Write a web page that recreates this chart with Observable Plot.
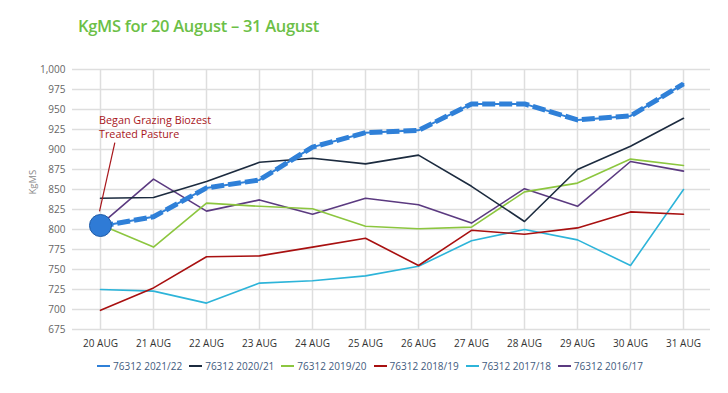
<!DOCTYPE html>
<html>
<head>
<meta charset="utf-8">
<script src="https://cdn.jsdelivr.net/npm/d3@7"></script>
<script src="https://cdn.jsdelivr.net/npm/@observablehq/plot@0.6"></script>
<style>
  body { margin: 0; background: #fff; font-family: "Open Sans", sans-serif; }
  #wrap { position: relative; width: 728px; height: 393px; overflow: hidden; background: #fff; }
  #title { position: absolute; left: 78px; top: 14px; font-size: 16.5px; font-weight: 600; color: #6cbf47; letter-spacing: -0.3px; white-space: nowrap; }
  #chart { position: absolute; left: 0; top: 50px; }
  #legend { position: absolute; left: 97px; top: 357px; display: flex; align-items: center; height: 18px; }
  .item { display: flex; align-items: center; margin-right: 7px; }
  .sw { width: 13px; height: 2px; margin-right: 3px; }
  .lt { font-size: 10px; letter-spacing: 0px; color: #3f5b7e; white-space: nowrap; }
</style>
</head>
<body>
<div id="wrap">
  <div id="title"></div>
  <div id="chart"></div>
  <div id="legend"></div>
</div>
<script>
const titleText = "KgMS for 20 August – 31 August";
const days = ["20 AUG","21 AUG","22 AUG","23 AUG","24 AUG","25 AUG","26 AUG","27 AUG","28 AUG","29 AUG","30 AUG","31 AUG"];
const seriesNames = ["76312 2021/22","76312 2020/21","76312 2019/20","76312 2018/19","76312 2017/18","76312 2016/17"];
const seriesColors = ["#2f80d8","#1c2b3f","#8cc63f","#a81010","#2db4d9","#5b3a80"];
const s2122 = [804, 816, 852, 862, 903, 921, 924, 957, 957, 937, 942, 982];
const s2021 = [839, 840, 860, 884, 889, 882, 893, 854, 810, 875, 904, 939];
const s1920 = [806, 778, 833, 829, 826, 804, 801, 803, 847, 858, 888, 880];
const s1819 = [699, 727, 766, 767, 778, 789, 755, 799, 794, 802, 822, 819];
const s1718 = [725, 723, 708, 733, 736, 742, 754, 786, 800, 787, 755, 850];
const s1617 = [806, 863, 823, 837, 819, 839, 831, 808, 851, 829, 885, 873];
const yTicks = [675, 700, 725, 750, 775, 800, 825, 850, 875, 900, 925, 950, 975, 1000];
const yLabel = "KgMS";
const annotationText = "Began Grazing Biozest\nTreated Pasture";
const annotationDay = "20 AUG";
const annotationTextY = 944;
const markerValue = 805;
const leaderFromY = 822;
const leaderToY = 908;

const allSeries = [s2122, s2021, s1920, s1819, s1718, s1617];
const rows = [];
allSeries.forEach((vals, i) => vals.forEach((v, j) => rows.push({series: seriesNames[i], day: days[j], value: v})));
const mainRows = rows.filter(d => d.series === seriesNames[0]);
const otherRows = rows.filter(d => d.series !== seriesNames[0]);

document.getElementById("title").textContent = titleText;

const chart = Plot.plot({
  width: 728,
  height: 305,
  marginLeft: 72,
  marginRight: 18,
  marginTop: 19,
  marginBottom: 26,
  style: {fontFamily: "Open Sans, sans-serif", background: "transparent"},
  x: {type: "point", domain: days, padding: 0.5, label: null},
  y: {domain: [675, 1000], label: null},
  color: {domain: seriesNames, range: seriesColors},
  marks: [
    Plot.gridY(yTicks, {stroke: "#dedede", strokeOpacity: 1, strokeWidth: 1.5}),
    Plot.gridX(days, {stroke: "#dedede", strokeOpacity: 1, strokeWidth: 1.5}),
    Plot.axisY(yTicks, {tickSize: 0, tickPadding: 7, tickFormat: d3.format(","), fontSize: 10, fill: "#666", letterSpacing: "-0.3px", label: null}),
    Plot.axisX(days, {tickSize: 0, tickPadding: 10, fontSize: 10, fill: "#333", letterSpacing: "-0.4px", label: null}),
    Plot.text([yLabel], {frameAnchor: "left", dx: -40, dy: -5, rotate: -90, fontSize: 9.5, fill: "#888", text: d => d}),
    Plot.line(otherRows.slice().reverse(), {x: "day", y: "value", z: "series", stroke: "series", strokeWidth: 1.6}),
    Plot.line(mainRows, {x: "day", y: "value", stroke: "series", strokeWidth: 2}),
    Plot.line(mainRows, {x: "day", y: "value", stroke: "series", strokeWidth: 5, strokeDasharray: "13,4", strokeLinecap: "butt", strokeLinejoin: "miter"}),
    Plot.dot([markerValue], {x: () => annotationDay, y: d => d, r: 11, fill: "#2f7bd6", stroke: "#1f5ca8", strokeWidth: 1}),
    Plot.text([annotationText], {x: () => annotationDay, y: () => annotationTextY, dx: -1.5, text: d => d, textAnchor: "start", lineAnchor: "top", lineHeight: 1.3, fontSize: 10.8, fill: "#a8161b"})
  ]
});
document.getElementById("chart").appendChild(chart);

// leader line for annotation, using the plot's scales
const xs = chart.scale("x"), ys = chart.scale("y");
const step = xs.apply(days[1]) - xs.apply(days[0]);
const x0 = xs.apply(annotationDay);
d3.select(chart).append("line")
  .attr("x1", x0 - 0.5).attr("y1", ys.apply(leaderFromY))
  .attr("x2", x0 + step * 0.28).attr("y2", ys.apply(leaderToY))
  .attr("stroke", "#a8161b").attr("stroke-width", 1.2);
// keep the marker above the leader line
const dotGroups = chart.querySelectorAll("circle");
dotGroups.forEach(c => chart.appendChild(c.parentNode));

const legend = document.getElementById("legend");
seriesNames.forEach((name, i) => {
  const it = document.createElement("div");
  it.className = "item";
  const sw = document.createElement("div");
  sw.className = "sw";
  sw.style.background = seriesColors[i];
  const t = document.createElement("span");
  t.className = "lt";
  t.textContent = name;
  it.appendChild(sw); it.appendChild(t);
  legend.appendChild(it);
});
</script>
</body>
</html>
